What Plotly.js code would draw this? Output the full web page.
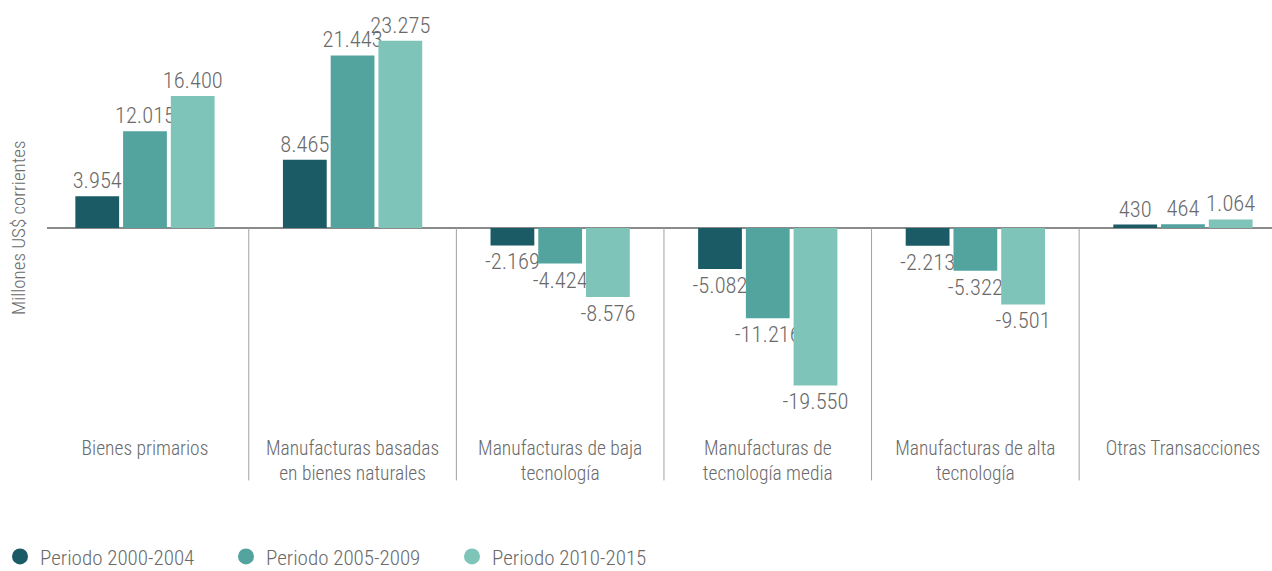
<!DOCTYPE html>
<html>
<head>
<meta charset="utf-8">
<script src="https://cdn.plot.ly/plotly-3.0.1.min.js"></script>
<style>html,body{margin:0;padding:0;background:#fff;}#chart{width:1272px;height:571px;}</style>
</head>
<body>
<div id="chart"></div>
<script>
const categories = ['Bienes primarios', 'Manufacturas basadas<br>en bienes naturales', 'Manufacturas de baja<br>tecnología', 'Manufacturas de<br>tecnología media', 'Manufacturas de alta<br>tecnología', 'Otras Transacciones'];
const seriesNames = ['Periodo 2000-2004', 'Periodo 2005-2009', 'Periodo 2010-2015'];
const p2000_2004 = [3954, 8465, -2169, -5082, -2213, 430];
const p2005_2009 = [12015, 21443, -4424, -11216, -5322, 464];
const p2010_2015 = [16400, 23275, -8576, -19550, -9501, 1064];
const colors = ['#1a5b66', '#53a39f', '#7ec4b9'];
const yTitle = 'Millones US$ corrientes';

const FONT = '"Roboto Condensed", "Roboto", sans-serif';
const TXT = '#6a6a6a';
const yRange = [-25093, 27081];
const zeroFrac = -yRange[0] / (yRange[1] - yRange[0]);

const seriesValues = [p2000_2004, p2005_2009, p2010_2015];
const traces = [];
seriesValues.forEach((vals, i) => {
  traces.push({
    type: 'bar', x: categories, y: vals, name: seriesNames[i],
    marker: {color: colors[i]},
    texttemplate: '%{y:,.0f}', textposition: 'outside', textangle: 0,
    constraintext: 'none', cliponaxis: false,
    textfont: {family: FONT, size: 22.5, weight: 300, color: TXT},
    showlegend: false, hoverinfo: 'x+y'
  });
});
seriesNames.forEach((n, i) => {
  traces.push({
    type: 'scatter', mode: 'markers', x: [null], y: [null], name: n,
    marker: {color: colors[i], size: 16, symbol: 'circle'},
    showlegend: true, hoverinfo: 'skip'
  });
});

const shapes = [];
for (let i = 0; i < categories.length - 1; i++) {
  shapes.push({type: 'line', xref: 'x', yref: 'paper', x0: i + 0.5, x1: i + 0.5,
    y0: zeroFrac, y1: -0.12, line: {color: '#a0a0a0', width: 1}});
}

const layout = {
  width: 1272, height: 571,
  margin: {l: 47, r: 0, t: 10, b: 141},
  paper_bgcolor: '#ffffff', plot_bgcolor: '#ffffff',
  separators: ',.',
  barmode: 'group', bargap: 0.31, bargroupgap: 0.083,
  font: {family: FONT, size: 21, weight: 300, color: TXT},
  xaxis: {
    type: 'category', range: [-0.472, 5.429], showline: false, showgrid: false,
    ticks: '', ticklabelstandoff: 4,
    tickfont: {family: FONT, size: 19.5, weight: 300, color: TXT}, zeroline: false, fixedrange: true
  },
  yaxis: {
    range: yRange, showgrid: false, showticklabels: false, ticks: '',
    zeroline: true, zerolinecolor: '#8a8a8a', zerolinewidth: 1.5, showline: false, fixedrange: true
  },
  shapes: shapes,
  annotations: [{
    text: yTitle, xref: 'paper', yref: 'y', x: -0.0237, y: 0, xanchor: 'center', yanchor: 'middle',
    textangle: -90, showarrow: false, font: {family: FONT, size: 19, weight: 300, color: TXT}
  }],
  legend: {
    orientation: 'h', xref: 'container', yref: 'container', x: 0, y: 0.025,
    xanchor: 'left', yanchor: 'middle', entrywidth: 181, entrywidthmode: 'pixels',
    font: {family: FONT, size: 21, weight: 300, color: TXT}, bgcolor: 'rgba(0,0,0,0)'
  },
  showlegend: true
};

Plotly.newPlot('chart', traces, layout, {displayModeBar: false, staticPlot: true});
</script>
</body>
</html>
